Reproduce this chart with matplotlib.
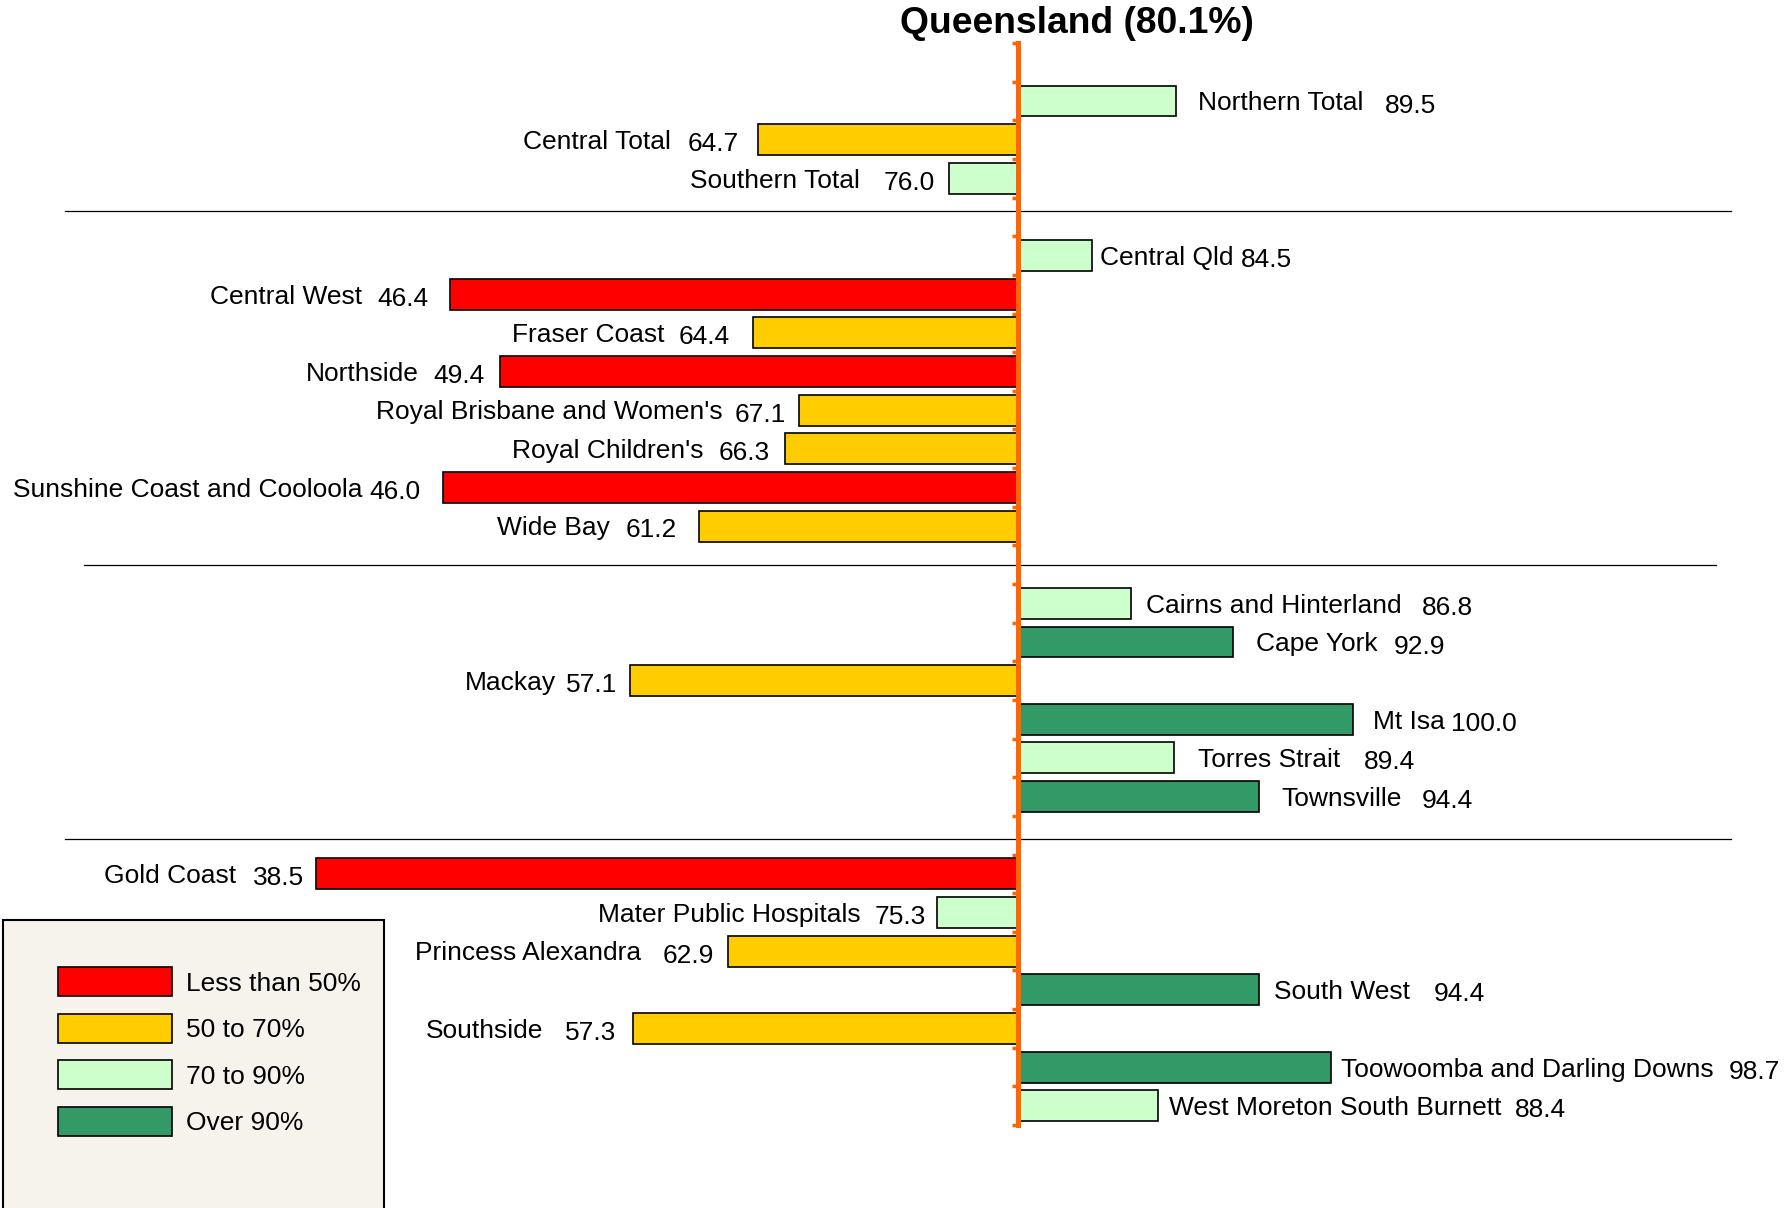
import numpy as np
import matplotlib
matplotlib.use("Agg")
import matplotlib.pyplot as plt
from matplotlib.patches import Patch, Rectangle

plt.rcParams['font.family'] = ['Liberation Sans', 'DejaVu Sans']

# --- data: one entry per row slot, "" / nan for empty or separator rows ---
names = [
    "", "Northern Total", "Central Total", "Southern Total", "",
    "Central Qld", "Central West", "Fraser Coast", "Northside",
    "Royal Brisbane and Women's", "Royal Children's",
    "Sunshine Coast and Cooloola", "Wide Bay", "",
    "Cairns and Hinterland", "Cape York", "Mackay", "Mt Isa",
    "Torres Strait", "Townsville", "",
    "Gold Coast", "Mater Public Hospitals", "Princess Alexandra",
    "South West", "Southside", "Toowoomba and Darling Downs",
    "West Moreton South Burnett",
]
values = [
    np.nan, 89.5, 64.7, 76.0, np.nan,
    84.5, 46.4, 64.4, 49.4,
    67.1, 66.3,
    46.0, 61.2, np.nan,
    86.8, 92.9, 57.1, 100.0,
    89.4, 94.4, np.nan,
    38.5, 75.3, 62.9,
    94.4, 57.3, 98.7,
    88.4,
]
state_avg = 80.1
title = "Queensland (80.1%)"

legend_labels = ["Less than 50%", "50 to 70%", "70 to 90%", "Over 90%"]
legend_colors = ["#FF0000", "#FFCC00", "#CCFFCC", "#339966"]
bins = [50, 70, 90]

# --- layout (not data) ---
separator_rows = [3.85, 13.0, 20.1]
separator_span = [(23.6, 122.4), (24.7, 121.5), (23.6, 122.4)]
# gaps in points: bar -> first text, first text -> second text
gap_bar = [0, 16, 14, 10, 0, 6, 15, 17, 11, 9, 11, 16, 16, 0,
           11, 16, 9, 14, 17, 16, 0, 9, 8, 10, 11, 12, 7, 8]
gap_txt = [0, 15, 12, 17, 0, 5, 11, 10, 11, 9, 11, 5, 11, 0,
           15, 12, 7, 5, 17, 15, 0, 12, 10, 15, 17, 16, 11, 10]

fig = plt.figure(figsize=(17.86, 12.08), dpi=100)
ax = fig.add_axes([0.0, 0.0687, 1.0, 0.8957])

vals = np.array(values, dtype=float)
rows = np.arange(len(vals))
mask = ~np.isnan(vals)
colors = [legend_colors[np.digitize(v, bins)] for v in vals[mask]]

ax.barh(rows[mask], vals[mask] - state_avg, left=state_avg, height=0.8,
        color=colors, edgecolor="black", linewidth=1.2, zorder=2)

ax.set_xlim(19.73, 125.68)
ax.set_ylim(len(vals) - 0.5, -0.5)

# vertical axis crossing at the state average
for s in ["top", "right", "bottom"]:
    ax.spines[s].set_visible(False)
ax.spines["left"].set_position(("data", state_avg))
ax.spines["left"].set_color("#FF6600")
ax.spines["left"].set_linewidth(3.6)
ax.spines["left"].set_zorder(3)
ax.set_xticks([])
ax.set_yticks(np.arange(-0.5, len(vals), 1.0))
ax.tick_params(axis="y", colors="#FF6600", length=4, width=2.5,
               direction="out", labelleft=False)

for y, (x0, x1) in zip(separator_rows, separator_span):
    ax.plot([x0, x1], [y, y], color="black", lw=0.9, zorder=1)

fs = 19
for i in rows[mask]:
    v = vals[i]
    lab = f"{v:.1f}"
    if v >= state_avg:
        t = ax.annotate(names[i], xy=(v, i), xytext=(gap_bar[i], -1.8),
                        textcoords="offset points", ha="left", va="center",
                        fontsize=fs)
        ax.annotate(lab, xy=(1, 0.5), xycoords=t,
                    xytext=(gap_txt[i], -1.5), textcoords="offset points",
                    ha="left", va="center", fontsize=fs)
    else:
        t = ax.annotate(lab, xy=(v, i), xytext=(-gap_bar[i], -3.2),
                        textcoords="offset points", ha="right", va="center",
                        fontsize=fs)
        ax.annotate(names[i], xy=(0, 0.5), xycoords=t,
                    xytext=(-gap_txt[i], 1.5), textcoords="offset points",
                    ha="right", va="center", fontsize=fs)

fig.text(1077 / 1786, 1 - 33 / 1208, title, ha="center", va="baseline",
         fontsize=26.8, fontweight="bold")

# legend box
fig.patches.append(Rectangle((3 / 1786, -0.01), 381 / 1786, 0.01 + 288 / 1208,
                             transform=fig.transFigure, facecolor="#F6F2EC",
                             edgecolor="black", linewidth=1.5, zorder=0))
handles = [Patch(facecolor=c, edgecolor="black", linewidth=1.2)
           for c in legend_colors]
fig.legend(handles, legend_labels, loc="upper left",
           bbox_to_anchor=(40 / 1786, 1 - 949 / 1208), frameon=False,
           fontsize=fs, handlelength=4.3, handleheight=1.3,
           handletextpad=0.55, labelspacing=0.67, borderpad=0.2)

fig.savefig("out.png", dpi=100)
